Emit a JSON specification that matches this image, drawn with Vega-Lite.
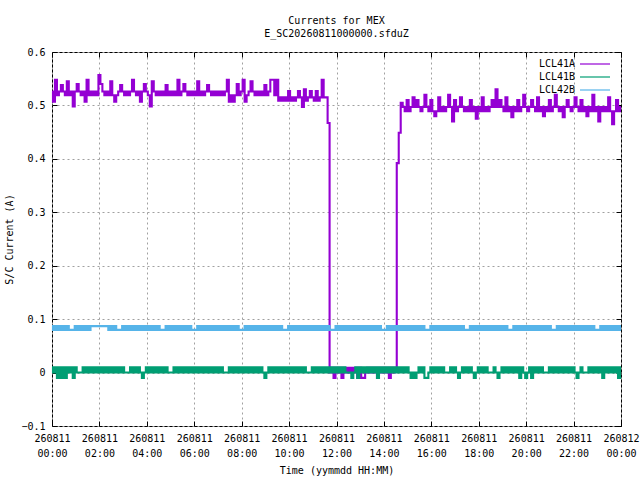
{
"$schema": "https://vega.github.io/schema/vega-lite/v6.json",
"width": 569, "height": 374,
"autosize": {"type": "none"},
"padding": {"left": 52, "top": 52, "right": 19, "bottom": 54},
"background": "white",
"title": {"text": ["Currents for MEX", "E_SC20260811000000.sfduZ"], "font": "DejaVu Sans Mono", "fontSize": 10, "fontWeight": "normal", "lineHeight": 13, "offset": 8, "anchor": "middle", "color": "black"},
"config": {
  "view": {"stroke": "black", "strokeWidth": 1},
  "font": "DejaVu Sans Mono",
  "axis": {"labelFont": "DejaVu Sans Mono", "labelFontSize": 10, "labelColor": "black", "titleFont": "DejaVu Sans Mono", "titleFontSize": 10, "titleFontWeight": "normal", "titleColor": "black", "tickColor": "black", "tickSize": -5, "ticks": true, "domain": false, "gridColor": "#a0a0a0", "gridDash": [2, 3], "gridOpacity": 1, "labelPadding": 12, "labelOverlap": false, "labelFlush": false}
},
"data": {"values": [
{"t":0,"LCL41A":0.526,"LCL41B":0.01,"LCL42B":0.087},
{"t":5,"LCL41A":0.507,"LCL41B":0,"LCL42B":0.08},
{"t":10,"LCL41A":0.548,"LCL41B":0.01,"LCL42B":0.087},
{"t":15,"LCL41A":0.519,"LCL41B":-0.01,"LCL42B":0.08},
{"t":20,"LCL41A":0.526,"LCL41B":0.01,"LCL42B":0.087},
{"t":25,"LCL41A":0.538,"LCL41B":-0.01,"LCL42B":0.08},
{"t":30,"LCL41A":0.526,"LCL41B":0.01,"LCL42B":0.087},
{"t":35,"LCL41A":0.519,"LCL41B":-0.01,"LCL42B":0.08},
{"t":40,"LCL41A":0.545,"LCL41B":0.01,"LCL42B":0.087},
{"t":45,"LCL41A":0.519,"LCL41B":0,"LCL42B":0.08},
{"t":50,"LCL41A":0.526,"LCL41B":0.01,"LCL42B":0.08},
{"t":55,"LCL41A":0.498,"LCL41B":-0.01,"LCL42B":0.08},
{"t":60,"LCL41A":0.526,"LCL41B":0.01,"LCL42B":0.087},
{"t":65,"LCL41A":0.54,"LCL41B":0,"LCL42B":0.08},
{"t":70,"LCL41A":0.526,"LCL41B":0,"LCL42B":0.087},
{"t":75,"LCL41A":0.519,"LCL41B":0,"LCL42B":0.08},
{"t":80,"LCL41A":0.526,"LCL41B":0.01,"LCL42B":0.087},
{"t":85,"LCL41A":0.507,"LCL41B":0,"LCL42B":0.08},
{"t":90,"LCL41A":0.548,"LCL41B":0.01,"LCL42B":0.087},
{"t":95,"LCL41A":0.519,"LCL41B":0,"LCL42B":0.08},
{"t":100,"LCL41A":0.526,"LCL41B":0.01,"LCL42B":0.087},
{"t":105,"LCL41A":0.519,"LCL41B":0,"LCL42B":0.087},
{"t":110,"LCL41A":0.526,"LCL41B":0.01,"LCL42B":0.087},
{"t":115,"LCL41A":0.519,"LCL41B":0,"LCL42B":0.087},
{"t":120,"LCL41A":0.557,"LCL41B":0.01,"LCL42B":0.087},
{"t":125,"LCL41A":0.54,"LCL41B":0,"LCL42B":0.087},
{"t":130,"LCL41A":0.526,"LCL41B":0.01,"LCL42B":0.087},
{"t":135,"LCL41A":0.519,"LCL41B":0,"LCL42B":0.087},
{"t":140,"LCL41A":0.526,"LCL41B":0.01,"LCL42B":0.087},
{"t":145,"LCL41A":0.519,"LCL41B":0,"LCL42B":0.08},
{"t":150,"LCL41A":0.545,"LCL41B":0.01,"LCL42B":0.087},
{"t":155,"LCL41A":0.519,"LCL41B":0,"LCL42B":0.08},
{"t":160,"LCL41A":0.507,"LCL41B":0.01,"LCL42B":0.087},
{"t":165,"LCL41A":0.519,"LCL41B":0,"LCL42B":0.08},
{"t":170,"LCL41A":0.526,"LCL41B":0.01,"LCL42B":0.08},
{"t":175,"LCL41A":0.538,"LCL41B":0,"LCL42B":0.08},
{"t":180,"LCL41A":0.526,"LCL41B":0.01,"LCL42B":0.087},
{"t":185,"LCL41A":0.519,"LCL41B":0,"LCL42B":0.08},
{"t":190,"LCL41A":0.526,"LCL41B":0,"LCL42B":0.087},
{"t":195,"LCL41A":0.519,"LCL41B":0,"LCL42B":0.08},
{"t":200,"LCL41A":0.526,"LCL41B":0.01,"LCL42B":0.087},
{"t":205,"LCL41A":0.548,"LCL41B":0,"LCL42B":0.08},
{"t":210,"LCL41A":0.526,"LCL41B":0.01,"LCL42B":0.087},
{"t":215,"LCL41A":0.519,"LCL41B":0,"LCL42B":0.08},
{"t":220,"LCL41A":0.526,"LCL41B":0.01,"LCL42B":0.087},
{"t":225,"LCL41A":0.507,"LCL41B":0,"LCL42B":0.08},
{"t":230,"LCL41A":0.526,"LCL41B":-0.01,"LCL42B":0.087},
{"t":235,"LCL41A":0.54,"LCL41B":0,"LCL42B":0.08},
{"t":240,"LCL41A":0.526,"LCL41B":0.01,"LCL42B":0.087},
{"t":245,"LCL41A":0.519,"LCL41B":0,"LCL42B":0.08},
{"t":250,"LCL41A":0.498,"LCL41B":0.01,"LCL42B":0.087},
{"t":255,"LCL41A":0.545,"LCL41B":0,"LCL42B":0.08},
{"t":260,"LCL41A":0.526,"LCL41B":0.01,"LCL42B":0.087},
{"t":265,"LCL41A":0.519,"LCL41B":0,"LCL42B":0.08},
{"t":270,"LCL41A":0.526,"LCL41B":0.01,"LCL42B":0.087},
{"t":275,"LCL41A":0.519,"LCL41B":0,"LCL42B":0.08},
{"t":280,"LCL41A":0.526,"LCL41B":0.01,"LCL42B":0.08},
{"t":285,"LCL41A":0.519,"LCL41B":0,"LCL42B":0.08},
{"t":290,"LCL41A":0.538,"LCL41B":0.01,"LCL42B":0.087},
{"t":295,"LCL41A":0.519,"LCL41B":0,"LCL42B":0.08},
{"t":300,"LCL41A":0.526,"LCL41B":0,"LCL42B":0.087},
{"t":305,"LCL41A":0.519,"LCL41B":0,"LCL42B":0.08},
{"t":310,"LCL41A":0.526,"LCL41B":0.01,"LCL42B":0.087},
{"t":315,"LCL41A":0.519,"LCL41B":0,"LCL42B":0.08},
{"t":320,"LCL41A":0.548,"LCL41B":0.01,"LCL42B":0.087},
{"t":325,"LCL41A":0.519,"LCL41B":0,"LCL42B":0.08},
{"t":330,"LCL41A":0.526,"LCL41B":0.01,"LCL42B":0.087},
{"t":335,"LCL41A":0.54,"LCL41B":0,"LCL42B":0.08},
{"t":340,"LCL41A":0.526,"LCL41B":0.01,"LCL42B":0.087},
{"t":345,"LCL41A":0.519,"LCL41B":0,"LCL42B":0.08},
{"t":350,"LCL41A":0.526,"LCL41B":0.01,"LCL42B":0.087},
{"t":355,"LCL41A":0.519,"LCL41B":0,"LCL42B":0.08},
{"t":360,"LCL41A":0.526,"LCL41B":0.01,"LCL42B":0.08},
{"t":365,"LCL41A":0.519,"LCL41B":0,"LCL42B":0.08},
{"t":370,"LCL41A":0.545,"LCL41B":0.01,"LCL42B":0.087},
{"t":375,"LCL41A":0.519,"LCL41B":0,"LCL42B":0.08},
{"t":380,"LCL41A":0.526,"LCL41B":0.01,"LCL42B":0.087},
{"t":385,"LCL41A":0.519,"LCL41B":0,"LCL42B":0.08},
{"t":390,"LCL41A":0.526,"LCL41B":0.01,"LCL42B":0.087},
{"t":395,"LCL41A":0.538,"LCL41B":0,"LCL42B":0.08},
{"t":400,"LCL41A":0.526,"LCL41B":0.01,"LCL42B":0.087},
{"t":405,"LCL41A":0.519,"LCL41B":0,"LCL42B":0.08},
{"t":410,"LCL41A":0.526,"LCL41B":0.01,"LCL42B":0.087},
{"t":415,"LCL41A":0.519,"LCL41B":0,"LCL42B":0.08},
{"t":420,"LCL41A":0.526,"LCL41B":0.01,"LCL42B":0.087},
{"t":425,"LCL41A":0.519,"LCL41B":0,"LCL42B":0.08},
{"t":430,"LCL41A":0.526,"LCL41B":0.01,"LCL42B":0.087},
{"t":435,"LCL41A":0.519,"LCL41B":0,"LCL42B":0.08},
{"t":440,"LCL41A":0.526,"LCL41B":0,"LCL42B":0.087},
{"t":445,"LCL41A":0.548,"LCL41B":0,"LCL42B":0.08},
{"t":450,"LCL41A":0.507,"LCL41B":0.01,"LCL42B":0.087},
{"t":455,"LCL41A":0.519,"LCL41B":0,"LCL42B":0.08},
{"t":460,"LCL41A":0.507,"LCL41B":0.01,"LCL42B":0.087},
{"t":465,"LCL41A":0.519,"LCL41B":0,"LCL42B":0.08},
{"t":470,"LCL41A":0.54,"LCL41B":0.01,"LCL42B":0.087},
{"t":475,"LCL41A":0.519,"LCL41B":0,"LCL42B":0.08},
{"t":480,"LCL41A":0.526,"LCL41B":0.01,"LCL42B":0.08},
{"t":485,"LCL41A":0.548,"LCL41B":0,"LCL42B":0.08},
{"t":490,"LCL41A":0.507,"LCL41B":0.01,"LCL42B":0.087},
{"t":495,"LCL41A":0.519,"LCL41B":0,"LCL42B":0.08},
{"t":500,"LCL41A":0.526,"LCL41B":0.01,"LCL42B":0.087},
{"t":505,"LCL41A":0.545,"LCL41B":0,"LCL42B":0.08},
{"t":510,"LCL41A":0.526,"LCL41B":0.01,"LCL42B":0.087},
{"t":515,"LCL41A":0.519,"LCL41B":0,"LCL42B":0.08},
{"t":520,"LCL41A":0.526,"LCL41B":0.01,"LCL42B":0.087},
{"t":525,"LCL41A":0.519,"LCL41B":0,"LCL42B":0.08},
{"t":530,"LCL41A":0.526,"LCL41B":0.01,"LCL42B":0.087},
{"t":535,"LCL41A":0.519,"LCL41B":0,"LCL42B":0.08},
{"t":540,"LCL41A":0.538,"LCL41B":-0.01,"LCL42B":0.087},
{"t":545,"LCL41A":0.519,"LCL41B":0,"LCL42B":0.08},
{"t":550,"LCL41A":0.526,"LCL41B":0.01,"LCL42B":0.087},
{"t":555,"LCL41A":0.548,"LCL41B":0,"LCL42B":0.08},
{"t":560,"LCL41A":0.548,"LCL41B":0.01,"LCL42B":0.087},
{"t":565,"LCL41A":0.519,"LCL41B":0,"LCL42B":0.08},
{"t":570,"LCL41A":0.548,"LCL41B":0.01,"LCL42B":0.087},
{"t":575,"LCL41A":0.509,"LCL41B":0,"LCL42B":0.08},
{"t":580,"LCL41A":0.515,"LCL41B":0.01,"LCL42B":0.087},
{"t":585,"LCL41A":0.509,"LCL41B":0,"LCL42B":0.08},
{"t":590,"LCL41A":0.515,"LCL41B":0.01,"LCL42B":0.08},
{"t":595,"LCL41A":0.509,"LCL41B":0,"LCL42B":0.08},
{"t":600,"LCL41A":0.527,"LCL41B":0.01,"LCL42B":0.087},
{"t":605,"LCL41A":0.509,"LCL41B":0,"LCL42B":0.08},
{"t":610,"LCL41A":0.515,"LCL41B":0.01,"LCL42B":0.087},
{"t":615,"LCL41A":0.509,"LCL41B":0,"LCL42B":0.08},
{"t":620,"LCL41A":0.515,"LCL41B":0.01,"LCL42B":0.087},
{"t":625,"LCL41A":0.527,"LCL41B":0,"LCL42B":0.08},
{"t":630,"LCL41A":0.515,"LCL41B":0.01,"LCL42B":0.087},
{"t":635,"LCL41A":0.497,"LCL41B":0,"LCL42B":0.08},
{"t":640,"LCL41A":0.53,"LCL41B":0.01,"LCL42B":0.087},
{"t":645,"LCL41A":0.509,"LCL41B":0,"LCL42B":0.08},
{"t":650,"LCL41A":0.515,"LCL41B":0,"LCL42B":0.087},
{"t":655,"LCL41A":0.527,"LCL41B":0,"LCL42B":0.08},
{"t":660,"LCL41A":0.515,"LCL41B":0.01,"LCL42B":0.087},
{"t":665,"LCL41A":0.509,"LCL41B":0,"LCL42B":0.08},
{"t":670,"LCL41A":0.527,"LCL41B":0.01,"LCL42B":0.087},
{"t":675,"LCL41A":0.509,"LCL41B":0,"LCL42B":0.08},
{"t":680,"LCL41A":0.515,"LCL41B":0.01,"LCL42B":0.087},
{"t":685,"LCL41A":0.548,"LCL41B":0,"LCL42B":0.08},
{"t":690,"LCL41A":0.515,"LCL41B":0.01,"LCL42B":0.087},
{"t":695,"LCL41A":0.515,"LCL41B":0,"LCL42B":0.08},
{"t":700,"LCL41A":0.467,"LCL41B":0.01,"LCL42B":0.087},
{"t":705,"LCL41A":0,"LCL41B":0,"LCL42B":0.08},
{"t":710,"LCL41A":0.009,"LCL41B":0.01,"LCL42B":0.08},
{"t":715,"LCL41A":-0.01,"LCL41B":0,"LCL42B":0.08},
{"t":720,"LCL41A":0.009,"LCL41B":0.01,"LCL42B":0.087},
{"t":725,"LCL41A":0,"LCL41B":0,"LCL42B":0.08},
{"t":730,"LCL41A":0.009,"LCL41B":0.01,"LCL42B":0.087},
{"t":735,"LCL41A":-0.01,"LCL41B":0,"LCL42B":0.08},
{"t":740,"LCL41A":0.009,"LCL41B":0.01,"LCL42B":0.087},
{"t":745,"LCL41A":0,"LCL41B":0,"LCL42B":0.08},
{"t":750,"LCL41A":0.009,"LCL41B":0,"LCL42B":0.087},
{"t":755,"LCL41A":0,"LCL41B":0,"LCL42B":0.08},
{"t":760,"LCL41A":0.009,"LCL41B":-0.01,"LCL42B":0.087},
{"t":765,"LCL41A":0,"LCL41B":0,"LCL42B":0.08},
{"t":770,"LCL41A":0.009,"LCL41B":0.01,"LCL42B":0.087},
{"t":775,"LCL41A":-0.01,"LCL41B":-0.01,"LCL42B":0.08},
{"t":780,"LCL41A":0.009,"LCL41B":0.01,"LCL42B":0.087},
{"t":785,"LCL41A":-0.01,"LCL41B":0,"LCL42B":0.08},
{"t":790,"LCL41A":-0.01,"LCL41B":0.01,"LCL42B":0.087},
{"t":795,"LCL41A":0,"LCL41B":0,"LCL42B":0.08},
{"t":800,"LCL41A":0.009,"LCL41B":0.01,"LCL42B":0.087},
{"t":805,"LCL41A":0,"LCL41B":0,"LCL42B":0.08},
{"t":810,"LCL41A":0.009,"LCL41B":0.01,"LCL42B":0.087},
{"t":815,"LCL41A":0,"LCL41B":0,"LCL42B":0.08},
{"t":820,"LCL41A":0.009,"LCL41B":0.01,"LCL42B":0.087},
{"t":825,"LCL41A":-0.01,"LCL41B":-0.01,"LCL42B":0.08},
{"t":830,"LCL41A":0.009,"LCL41B":0.01,"LCL42B":0.087},
{"t":835,"LCL41A":0,"LCL41B":0,"LCL42B":0.08},
{"t":840,"LCL41A":0.009,"LCL41B":0.01,"LCL42B":0.08},
{"t":845,"LCL41A":0,"LCL41B":0,"LCL42B":0.08},
{"t":850,"LCL41A":0.009,"LCL41B":0.01,"LCL42B":0.087},
{"t":855,"LCL41A":-0.01,"LCL41B":0,"LCL42B":0.08},
{"t":860,"LCL41A":0.009,"LCL41B":0.01,"LCL42B":0.087},
{"t":865,"LCL41A":0,"LCL41B":0,"LCL42B":0.08},
{"t":870,"LCL41A":0.009,"LCL41B":0.01,"LCL42B":0.087},
{"t":875,"LCL41A":0.392,"LCL41B":0,"LCL42B":0.08},
{"t":880,"LCL41A":0.449,"LCL41B":0.01,"LCL42B":0.087},
{"t":885,"LCL41A":0.505,"LCL41B":0,"LCL42B":0.08},
{"t":890,"LCL41A":0.497,"LCL41B":0.01,"LCL42B":0.087},
{"t":895,"LCL41A":0.489,"LCL41B":0,"LCL42B":0.08},
{"t":900,"LCL41A":0.51,"LCL41B":0.01,"LCL42B":0.087},
{"t":905,"LCL41A":0.489,"LCL41B":0,"LCL42B":0.08},
{"t":910,"LCL41A":0.497,"LCL41B":-0.01,"LCL42B":0.087},
{"t":915,"LCL41A":0.515,"LCL41B":0,"LCL42B":0.08},
{"t":920,"LCL41A":0.497,"LCL41B":-0.01,"LCL42B":0.087},
{"t":925,"LCL41A":0.51,"LCL41B":0,"LCL42B":0.08},
{"t":930,"LCL41A":0.497,"LCL41B":0.01,"LCL42B":0.087},
{"t":935,"LCL41A":0.489,"LCL41B":0,"LCL42B":0.08},
{"t":940,"LCL41A":0.497,"LCL41B":0.01,"LCL42B":0.087},
{"t":945,"LCL41A":0.52,"LCL41B":-0.01,"LCL42B":0.08},
{"t":950,"LCL41A":0.497,"LCL41B":-0.01,"LCL42B":0.08},
{"t":955,"LCL41A":0.489,"LCL41B":0,"LCL42B":0.08},
{"t":960,"LCL41A":0.51,"LCL41B":0.01,"LCL42B":0.087},
{"t":965,"LCL41A":0.489,"LCL41B":0,"LCL42B":0.08},
{"t":970,"LCL41A":0.48,"LCL41B":0.01,"LCL42B":0.087},
{"t":975,"LCL41A":0.489,"LCL41B":0,"LCL42B":0.08},
{"t":980,"LCL41A":0.515,"LCL41B":0.01,"LCL42B":0.087},
{"t":985,"LCL41A":0.489,"LCL41B":0,"LCL42B":0.08},
{"t":990,"LCL41A":0.497,"LCL41B":0.01,"LCL42B":0.087},
{"t":995,"LCL41A":0.489,"LCL41B":0,"LCL42B":0.08},
{"t":1000,"LCL41A":0.497,"LCL41B":0,"LCL42B":0.087},
{"t":1005,"LCL41A":0.52,"LCL41B":0,"LCL42B":0.08},
{"t":1010,"LCL41A":0.497,"LCL41B":0.01,"LCL42B":0.087},
{"t":1015,"LCL41A":0.47,"LCL41B":0,"LCL42B":0.08},
{"t":1020,"LCL41A":0.51,"LCL41B":0.01,"LCL42B":0.087},
{"t":1025,"LCL41A":0.489,"LCL41B":0,"LCL42B":0.08},
{"t":1030,"LCL41A":0.497,"LCL41B":-0.01,"LCL42B":0.087},
{"t":1035,"LCL41A":0.515,"LCL41B":0,"LCL42B":0.08},
{"t":1040,"LCL41A":0.497,"LCL41B":0.01,"LCL42B":0.087},
{"t":1045,"LCL41A":0.489,"LCL41B":0,"LCL42B":0.08},
{"t":1050,"LCL41A":0.497,"LCL41B":0.01,"LCL42B":0.08},
{"t":1055,"LCL41A":0.489,"LCL41B":0,"LCL42B":0.08},
{"t":1060,"LCL41A":0.51,"LCL41B":0.01,"LCL42B":0.087},
{"t":1065,"LCL41A":0.489,"LCL41B":0,"LCL42B":0.08},
{"t":1070,"LCL41A":0.497,"LCL41B":-0.01,"LCL42B":0.087},
{"t":1075,"LCL41A":0.475,"LCL41B":0,"LCL42B":0.08},
{"t":1080,"LCL41A":0.497,"LCL41B":0.01,"LCL42B":0.087},
{"t":1085,"LCL41A":0.489,"LCL41B":0,"LCL42B":0.08},
{"t":1090,"LCL41A":0.515,"LCL41B":0.01,"LCL42B":0.087},
{"t":1095,"LCL41A":0.489,"LCL41B":0,"LCL42B":0.08},
{"t":1100,"LCL41A":0.497,"LCL41B":0.01,"LCL42B":0.087},
{"t":1105,"LCL41A":0.489,"LCL41B":0,"LCL42B":0.08},
{"t":1110,"LCL41A":0.497,"LCL41B":0,"LCL42B":0.087},
{"t":1115,"LCL41A":0.51,"LCL41B":0,"LCL42B":0.08},
{"t":1120,"LCL41A":0.497,"LCL41B":0.01,"LCL42B":0.087},
{"t":1125,"LCL41A":0.53,"LCL41B":0,"LCL42B":0.08},
{"t":1130,"LCL41A":0.497,"LCL41B":-0.01,"LCL42B":0.087},
{"t":1135,"LCL41A":0.51,"LCL41B":0,"LCL42B":0.08},
{"t":1140,"LCL41A":0.497,"LCL41B":0.01,"LCL42B":0.087},
{"t":1145,"LCL41A":0.489,"LCL41B":0,"LCL42B":0.08},
{"t":1150,"LCL41A":0.515,"LCL41B":0.01,"LCL42B":0.087},
{"t":1155,"LCL41A":0.489,"LCL41B":0,"LCL42B":0.08},
{"t":1160,"LCL41A":0.497,"LCL41B":0.01,"LCL42B":0.08},
{"t":1165,"LCL41A":0.478,"LCL41B":0,"LCL42B":0.08},
{"t":1170,"LCL41A":0.497,"LCL41B":0.01,"LCL42B":0.087},
{"t":1175,"LCL41A":0.489,"LCL41B":0,"LCL42B":0.08},
{"t":1180,"LCL41A":0.51,"LCL41B":0.01,"LCL42B":0.087},
{"t":1185,"LCL41A":0.489,"LCL41B":-0.01,"LCL42B":0.08},
{"t":1190,"LCL41A":0.497,"LCL41B":0.01,"LCL42B":0.087},
{"t":1195,"LCL41A":0.52,"LCL41B":0,"LCL42B":0.08},
{"t":1200,"LCL41A":0.497,"LCL41B":-0.01,"LCL42B":0.087},
{"t":1205,"LCL41A":0.489,"LCL41B":0,"LCL42B":0.08},
{"t":1210,"LCL41A":0.497,"LCL41B":0.01,"LCL42B":0.087},
{"t":1215,"LCL41A":0.51,"LCL41B":-0.01,"LCL42B":0.08},
{"t":1220,"LCL41A":0.497,"LCL41B":0.01,"LCL42B":0.087},
{"t":1225,"LCL41A":0.489,"LCL41B":0,"LCL42B":0.08},
{"t":1230,"LCL41A":0.515,"LCL41B":0.01,"LCL42B":0.087},
{"t":1235,"LCL41A":0.489,"LCL41B":0,"LCL42B":0.08},
{"t":1240,"LCL41A":0.497,"LCL41B":0.01,"LCL42B":0.087},
{"t":1245,"LCL41A":0.48,"LCL41B":0,"LCL42B":0.08},
{"t":1250,"LCL41A":0.497,"LCL41B":0,"LCL42B":0.087},
{"t":1255,"LCL41A":0.489,"LCL41B":0,"LCL42B":0.08},
{"t":1260,"LCL41A":0.51,"LCL41B":0.01,"LCL42B":0.087},
{"t":1265,"LCL41A":0.489,"LCL41B":0,"LCL42B":0.08},
{"t":1270,"LCL41A":0.497,"LCL41B":0.01,"LCL42B":0.08},
{"t":1275,"LCL41A":0.52,"LCL41B":0,"LCL42B":0.08},
{"t":1280,"LCL41A":0.497,"LCL41B":0.01,"LCL42B":0.087},
{"t":1285,"LCL41A":0.489,"LCL41B":0,"LCL42B":0.08},
{"t":1290,"LCL41A":0.497,"LCL41B":0.01,"LCL42B":0.087},
{"t":1295,"LCL41A":0.478,"LCL41B":0,"LCL42B":0.08},
{"t":1300,"LCL41A":0.497,"LCL41B":0.01,"LCL42B":0.087},
{"t":1305,"LCL41A":0.51,"LCL41B":0,"LCL42B":0.08},
{"t":1310,"LCL41A":0.497,"LCL41B":0.01,"LCL42B":0.087},
{"t":1315,"LCL41A":0.489,"LCL41B":0,"LCL42B":0.08},
{"t":1320,"LCL41A":0.497,"LCL41B":0.01,"LCL42B":0.087},
{"t":1325,"LCL41A":0.515,"LCL41B":0,"LCL42B":0.08},
{"t":1330,"LCL41A":0.497,"LCL41B":-0.01,"LCL42B":0.087},
{"t":1335,"LCL41A":0.489,"LCL41B":0,"LCL42B":0.08},
{"t":1340,"LCL41A":0.51,"LCL41B":0.01,"LCL42B":0.087},
{"t":1345,"LCL41A":0.489,"LCL41B":0,"LCL42B":0.08},
{"t":1350,"LCL41A":0.497,"LCL41B":0,"LCL42B":0.087},
{"t":1355,"LCL41A":0.48,"LCL41B":0,"LCL42B":0.08},
{"t":1360,"LCL41A":0.497,"LCL41B":0.01,"LCL42B":0.087},
{"t":1365,"LCL41A":0.489,"LCL41B":0,"LCL42B":0.08},
{"t":1370,"LCL41A":0.52,"LCL41B":0.01,"LCL42B":0.087},
{"t":1375,"LCL41A":0.489,"LCL41B":0,"LCL42B":0.08},
{"t":1380,"LCL41A":0.497,"LCL41B":0.01,"LCL42B":0.08},
{"t":1385,"LCL41A":0.47,"LCL41B":0,"LCL42B":0.08},
{"t":1390,"LCL41A":0.497,"LCL41B":0.01,"LCL42B":0.087},
{"t":1395,"LCL41A":0.489,"LCL41B":-0.01,"LCL42B":0.08},
{"t":1400,"LCL41A":0.497,"LCL41B":0.01,"LCL42B":0.087},
{"t":1405,"LCL41A":0.489,"LCL41B":0,"LCL42B":0.08},
{"t":1410,"LCL41A":0.515,"LCL41B":0.01,"LCL42B":0.087},
{"t":1415,"LCL41A":0.489,"LCL41B":0,"LCL42B":0.08},
{"t":1420,"LCL41A":0.465,"LCL41B":0.01,"LCL42B":0.087},
{"t":1425,"LCL41A":0.489,"LCL41B":0,"LCL42B":0.08},
{"t":1430,"LCL41A":0.51,"LCL41B":0.01,"LCL42B":0.087},
{"t":1435,"LCL41A":0.489,"LCL41B":-0.01,"LCL42B":0.08},
{"t":1440,"LCL41A":0.497,"LCL41B":0.01,"LCL42B":0.087}
]},
"transform": [{"fold": ["LCL41A", "LCL41B", "LCL42B"], "as": ["series", "value"]}],
"layer": [
  {
    "mark": {"type": "line", "strokeWidth": 2.1, "interpolate": "step"},
    "encoding": {
      "x": {"field": "t", "type": "quantitative", "scale": {"domain": [0, 1440], "nice": false, "zero": false},
        "axis": {"orient": "bottom", "values": [0, 120, 240, 360, 480, 600, 720, 840, 960, 1080, 1200, 1320, 1440], "title": "Time (yymmdd HH:MM)", "grid": true, "labelLineHeight": 15, "labelBaseline": "top", "labelAlign": "center", "titlePadding": 7,
          "labelExpr": "[datum.value >= 1440 ? '260812' : '260811', (floor(datum.value / 60) % 24 < 10 ? '0' : '') + (floor(datum.value / 60) % 24) + ':00']"}},
      "y": {"field": "value", "type": "quantitative", "scale": {"domain": [-0.1, 0.6], "nice": false, "zero": false},
        "axis": {"orient": "left", "values": [-0.1, 0, 0.1, 0.2, 0.3, 0.4, 0.5, 0.6], "format": ".1~f", "title": "S/C Current (A)", "grid": true, "titlePadding": 6}},
      "color": {"field": "series", "type": "nominal",
        "scale": {"domain": ["LCL41A", "LCL41B", "LCL42B"], "range": ["#9400d3", "#009e73", "#56b4e9"]},
        "legend": {"title": null, "orient": "none", "legendX": 537, "legendY": 6, "padding": 0, "symbolType": "M-3,0H3", "symbolSize": 100, "symbolStrokeWidth": 1.2, "labelAlign": "right", "labelOffset": -26, "labelFont": "DejaVu Sans Mono", "labelFontSize": 10, "labelColor": "black", "rowPadding": 2}}
    }
  },
  {
    "mark": {"type": "line", "opacity": 0},
    "encoding": {
      "x": {"field": "t", "type": "quantitative", "axis": {"orient": "top", "values": [0, 120, 240, 360, 480, 600, 720, 840, 960, 1080, 1200, 1320, 1440], "labels": false, "title": null, "grid": false}},
      "y": {"field": "value", "type": "quantitative", "axis": {"orient": "right", "values": [-0.1, 0, 0.1, 0.2, 0.3, 0.4, 0.5, 0.6], "labels": false, "title": null, "grid": false}}
    }
  }
],
"resolve": {"axis": {"x": "independent", "y": "independent"}}
}
